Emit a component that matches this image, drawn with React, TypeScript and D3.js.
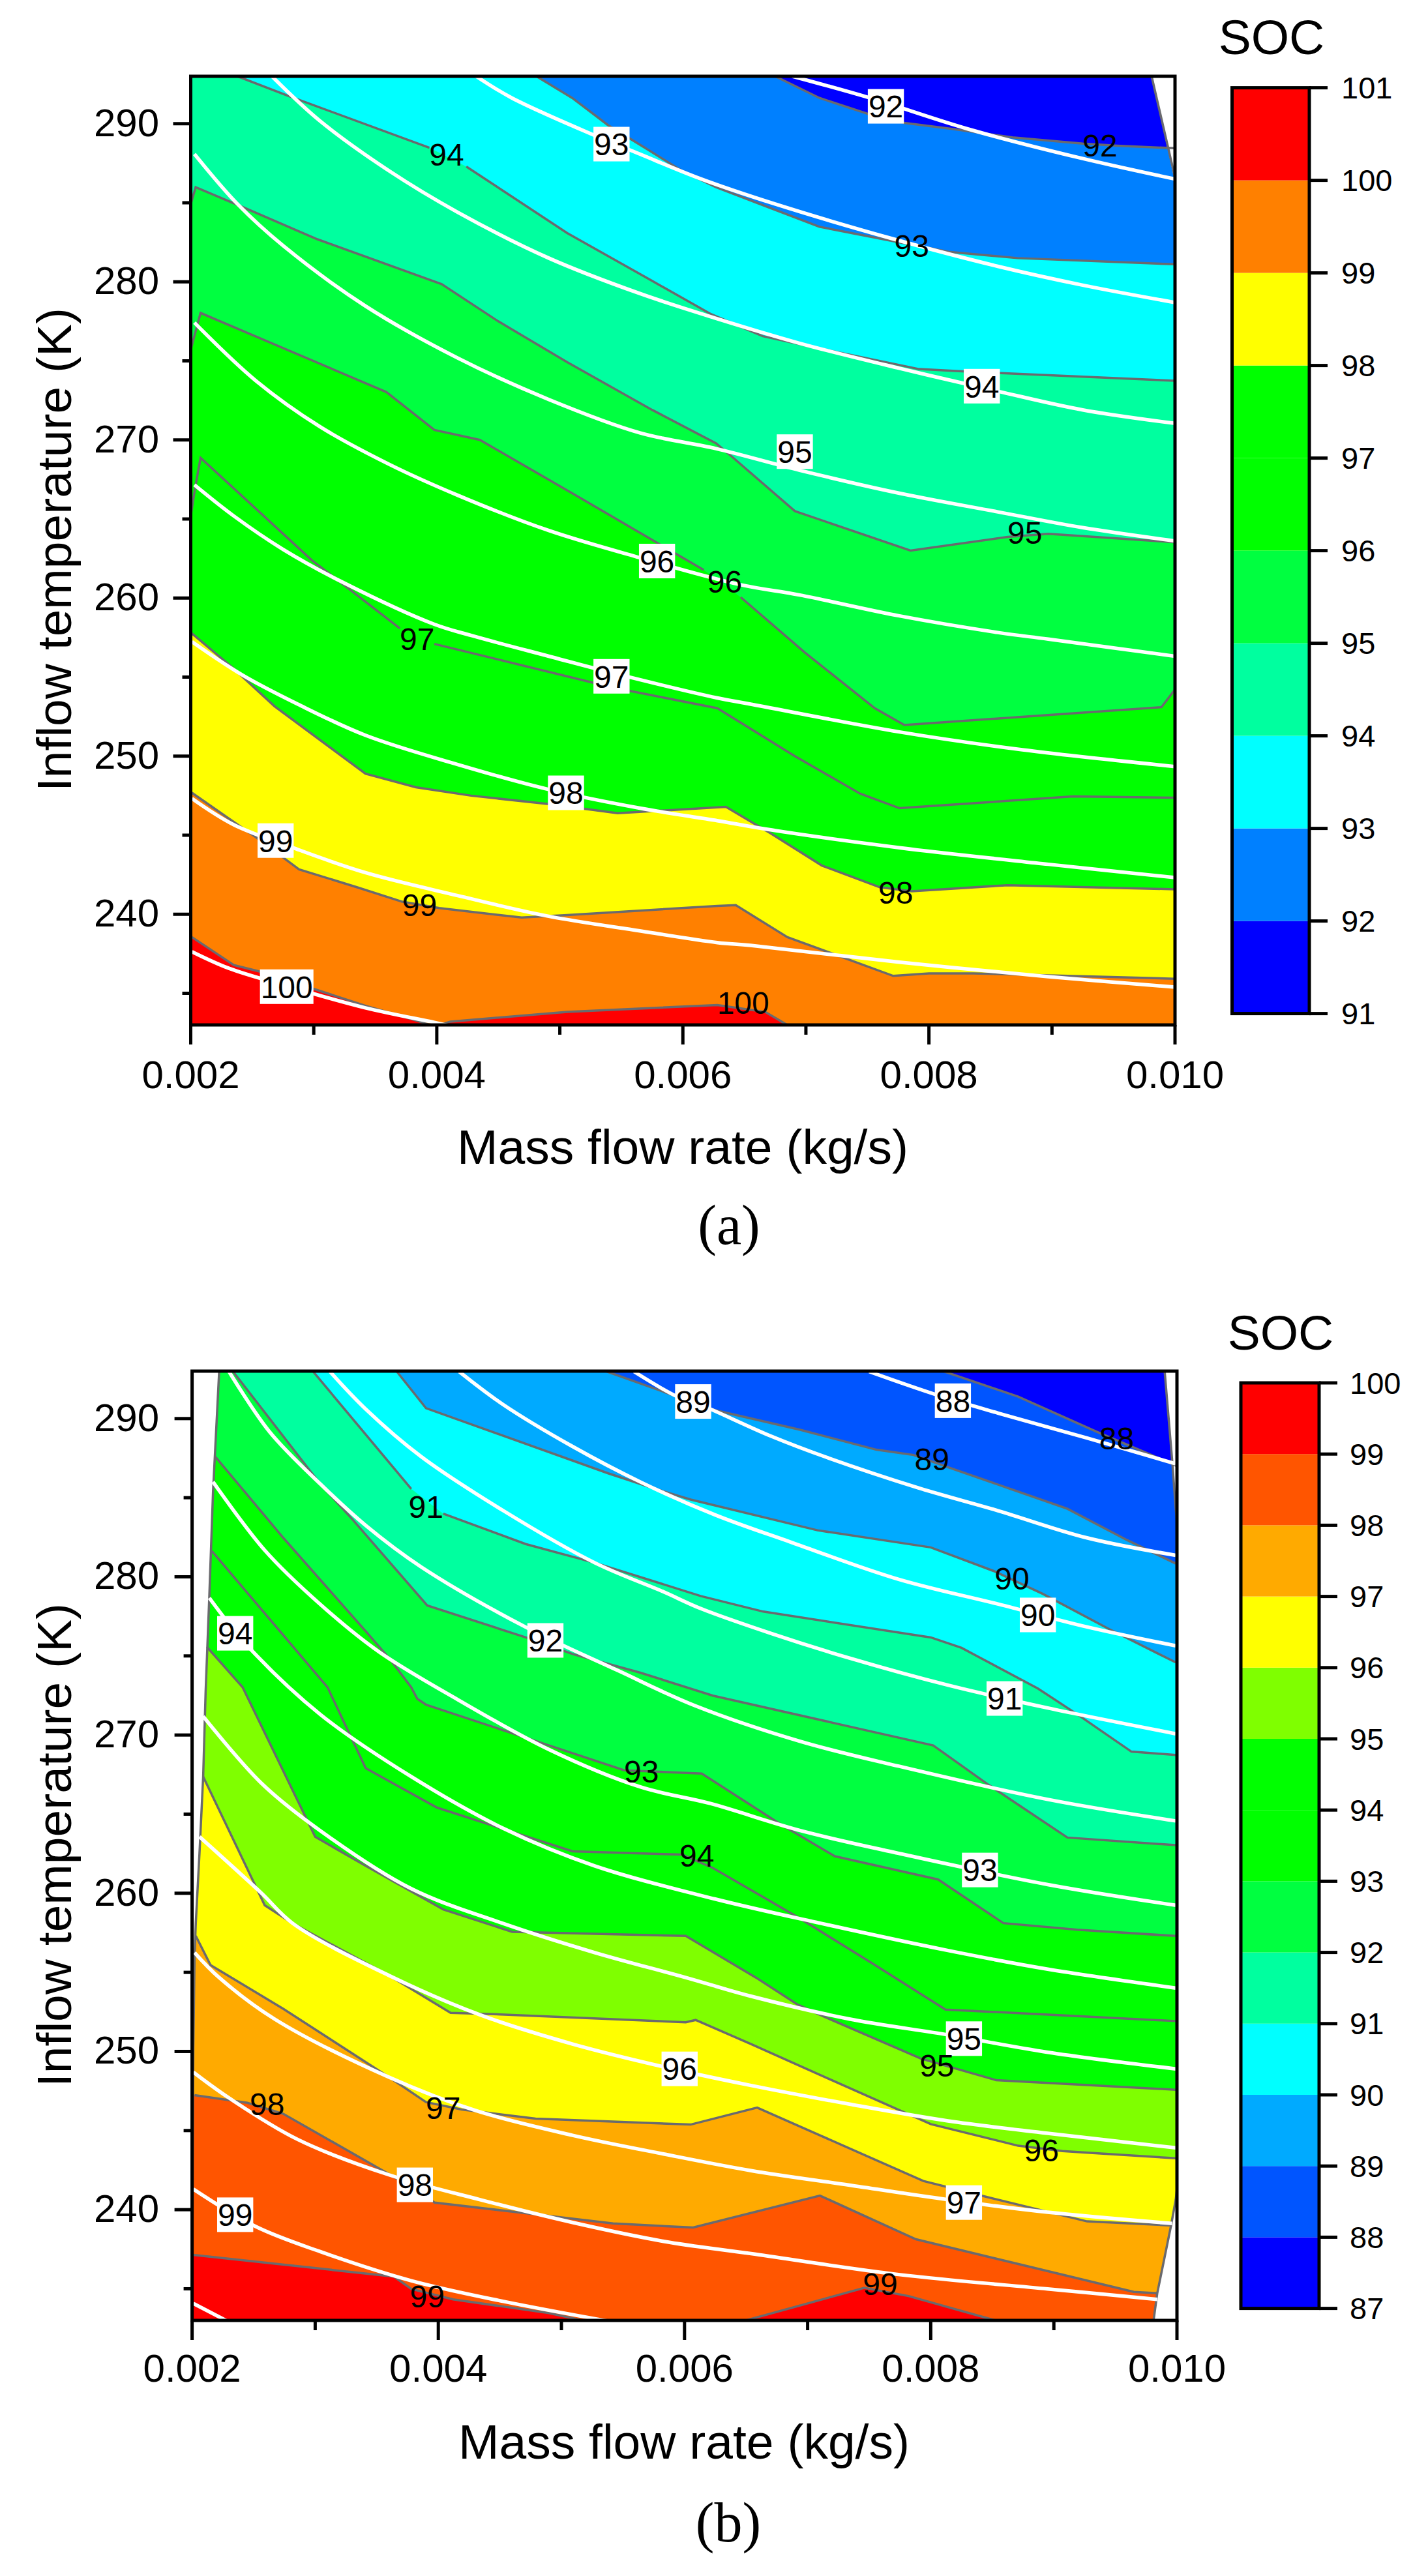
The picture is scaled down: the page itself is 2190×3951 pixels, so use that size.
import React from "react";
import * as d3 from "d3";

type P = [number, number] | null;
type Label = [string, number, number, boolean];

// All points are [mass flow in g/s, inflow temperature in K]. null = gap hidden behind a label.
const flowTicks = [2, 4, 6, 8, 10];
const flowMinor = [3, 5, 7, 9];
const tempTicks = [240, 250, 260, 270, 280, 290];
const tempMinor = [235, 245, 255, 265, 275, 285];

// ---------- Panel (a) ----------
const hullA: P[] = [[2, 233], [2, 293], [9.81, 293], [9.985, 286.8], [10, 286.6], [10, 233]];
const hullEdgeA: P[] = [[9.81, 293], [10, 286.6]];
const levelsA = [91, 92, 93, 94, 95, 96, 97, 98, 99, 100, 101];
const bandColorsA = ["#0000ff", "#0080ff", "#00ffff", "#00ff9f", "#00ff40", "#00ff00", "#00ff00", "#ffff00", "#ff8000", "#ff0000"];

const a92: P[] = [[6.75, 293], [7.11, 291.63], [7.52, 290.58], [7.8, 290.05], [8.2, 289.66], [8.68, 289.13], [9.25, 288.74], [9.53, 288.61], [9.93, 288.47], [10, 288.45]];
const a93: P[] = [[4.81, 293], [5.1, 291.63], [5.39, 289.92], [5.69, 288.48], [5.99, 287.03], [6.27, 285.98], [6.67, 284.79], [7.11, 283.48], [7.72, 282.56], [8.16, 281.9], [8.72, 281.5], [10, 281.11]];
const a94: P[] = [[2.38, 293], [2.79, 291.77], [3.94, 288.48], null, [4.24, 287.29], [5.06, 283.08], [5.75, 280.06], [6.23, 277.95], [6.65, 276.56], [7.07, 275.85], [7.48, 275.19], [7.92, 274.48], [8.32, 274.32], [10, 273.74]];
const a95: P[] = [[2, 284.92], [2.04, 285.98], [2.42, 284.74], [3.03, 282.69], [4.04, 279.85], [4.5, 277.5], [5.06, 274.92], [5.75, 271.9], [6.27, 269.79], [6.39, 269], [6.91, 265.5], [7.85, 263], [8.64, 263.87], [8.97, 264.06], [10, 263.53]];
const a96: P[] = [[2, 275.71], [2.08, 278.03], [3.59, 273.03], [3.98, 270.63], [4.35, 270], [5.1, 266.63], [6.17, 261.77], null, [6.47, 260.05], [6.99, 256.56], [7.56, 253.03], [7.8, 251.97], [9.89, 253.1], [10, 254.21]];
const a97: P[] = [[2, 265.2], [2.04, 267.16], [2.08, 268.87], [2.98, 262.42], [3.35, 260.19], [3.7, 258.08], null, [3.98, 257.1], [5.43, 254.34], [6.28, 253.03], [6.91, 250], [7.44, 247.63], [7.76, 246.71], [9.17, 247.45], [10, 247.37]];
const a98: P[] = [[2.01, 257.76], [2.35, 255.53], [2.68, 253.16], [3.42, 248.89], [3.83, 248.03], [4.28, 247.5], [4.91, 246.97], [5.47, 246.39], [5.88, 246.58], [6.35, 246.79], [6.71, 245.13], [7.13, 243.08], [7.6, 241.71], [7.86, 241.45], [8.64, 241.84], [10, 241.58]];
const a99: P[] = [[2.01, 247.68], [2.31, 246.05], [2.53, 244.87], [2.88, 242.84], [3.35, 241.71], [3.72, 240.79], [4.02, 240.39], [4.69, 239.79], [5.06, 239.95], [6.28, 240.53], [6.43, 240.58], [6.85, 238.55], [7.36, 237.1], [7.71, 236.1], [8, 236.26], [8.36, 236.26], [10, 235.92]];
const a100: P[] = [[2.01, 238.55], [2.35, 236.79], [2.59, 236.32], [3.42, 234.21], [3.83, 233.29], [3.98, 232.9], [4.11, 233.21], [5.06, 233.82], [6.28, 234.26], [6.67, 233.82], [6.87, 232.9]];
const boundariesA: { color: string; line: P[] }[] = [
  { color: bandColorsA[1], line: a92 },
  { color: bandColorsA[2], line: a93 },
  { color: bandColorsA[3], line: a94 },
  { color: bandColorsA[4], line: a95 },
  { color: bandColorsA[5], line: a96 },
  { color: bandColorsA[6], line: a97 },
  { color: bandColorsA[7], line: a98 },
  { color: bandColorsA[8], line: a99 },
  { color: bandColorsA[9], line: a100 },
];

const whiteA92: P[] = [[6.89, 293], [7.52, 291.63], [8.32, 289.66], [9.21, 287.87], [10, 286.5]];
const whiteA93: P[] = [[4.32, 293], [4.61, 291.63], [5.28, 289.27], [5.65, 288.08], [6.15, 286.5], [6.75, 284.92], [7.72, 282.69], [8.56, 280.98], [9.25, 279.79], [10, 278.69]];
const whiteA94: P[] = [[2.66, 293], [3.05, 290.18], [3.61, 287.03], [4.17, 284.4], [4.91, 281.5], [5.65, 279.26], [6.27, 277.69], [6.95, 276.11], [7.76, 274.53], [8.56, 273.08], [9.25, 271.9], [10, 271.05]];
const whiteA95: P[] = [[2.03, 288.08], [2.38, 284.92], [2.75, 282.29], [3.42, 278.47], [4.17, 275.18], [4.91, 272.56], [5.65, 270.45], [6.27, 269.45], [6.95, 268.08], [7.76, 266.63], [8.56, 265.45], [9.25, 264.45], [10, 263.61]];
const whiteA96: P[] = [[2.03, 277.42], [2.53, 273.74], [3.05, 270.84], [3.61, 268.47], [4.17, 266.5], [4.91, 264.27], [5.65, 262.55], [6.47, 260.84], [6.95, 260.19], [7.76, 258.87], [8.56, 257.82], [8.97, 257.4], [10, 256.32]];
const whiteA97: P[] = [[2.03, 267.16], [2.35, 265.19], [2.75, 263.08], [3.24, 260.98], [3.98, 258.34], [4.28, 257.63], [4.91, 256.32], [5.43, 255.26], [6.28, 253.68], [6.55, 253.29], [7.76, 251.53], [8.76, 250.4], [10, 249.34]];
const whiteA98: P[] = [[2.01, 257.24], [2.42, 255.13], [2.87, 253.29], [3.42, 251.32], [4.17, 249.47], [4.91, 247.89], [5.65, 246.71], [6.28, 245.92], [6.67, 245.39], [7.76, 244.21], [8.97, 243.16], [10, 242.32]];
const whiteA99: P[] = [[2.01, 247.32], [2.35, 245.66], [2.83, 244.21], [3.42, 242.63], [4.17, 241.18], [4.91, 239.87], [5.65, 238.95], [6.28, 238.21], [6.55, 238.03], [7.76, 236.97], [8.97, 236.05], [10, 235.39]];
const whiteA100: P[] = [[2.01, 237.63], [2.31, 236.58], [2.75, 235.53], [3.42, 234.08], [3.98, 233.16], [4.13, 232.9]];
const whiteLinesA = [whiteA92, whiteA93, whiteA94, whiteA95, whiteA96, whiteA97, whiteA98, whiteA99, whiteA100];

const labelsA: Label[] = [
  ["92", 7.65, 291.1, true], ["93", 5.42, 288.71, true], ["95", 6.91, 269.26, true], ["94", 8.43, 273.4, true],
  ["96", 5.79, 262.34, true], ["97", 5.42, 255.05, true], ["98", 5.05, 247.68, true], ["99", 2.69, 244.66, true], ["100", 2.78, 235.42, true],
  ["94", 4.08, 288.08, false], ["92", 9.39, 288.66, false], ["93", 7.86, 282.3, false], ["95", 8.78, 264.13, false],
  ["96", 6.34, 261.05, false], ["97", 3.84, 257.42, false], ["99", 3.86, 240.6, false], ["98", 7.73, 241.39, false], ["100", 6.49, 234.42, false],
];

// ---------- Panel (b) ----------
const hullB: P[] = [[2.22, 293], [2.17, 285.35], [2.14, 278.79], [2.11, 272.76], [2.09, 267.37], [2.06, 262.52], [2.03, 258.11], [2.02, 255.98], [2.01, 250.2], [2, 233], [9.81, 233], [9.84, 234.72], [9.95, 238.92], [9.99, 240.63], [10, 241.3], [10, 283.5], [9.99, 284.3], [9.96, 287.45], [9.9, 293]];
const hullEdgeB1: P[] = [[2.22, 293], [2.17, 285.35], [2.14, 278.79], [2.11, 272.76], [2.09, 267.37], [2.06, 262.52], [2.03, 258.11], [2.02, 255.98], [2.01, 250.2], [2, 233]];
const hullEdgeB2: P[] = [[9.9, 293], [9.96, 287.45], [9.99, 284.3], [10, 283.5]];
const hullEdgeB3: P[] = [[10, 241.3], [9.99, 240.63], [9.95, 238.92], [9.84, 234.72], [9.81, 233]];
const levelsB = [87, 88, 89, 90, 91, 92, 93, 94, 95, 96, 97, 98, 99, 100];
const bandColorsB = ["#0000ff", "#0055ff", "#00aaff", "#00ffff", "#00ff9f", "#00ff40", "#00ff00", "#00ff00", "#7fff00", "#ffff00", "#ffaa00", "#ff5500", "#ff0000"];

const b88: P[] = [[8.1, 293], [8.71, 291.39], [9.35, 289.16], [9.96, 287.14], [10, 287]];
const b89: P[] = [[5.36, 293], [5.94, 291.39], [6.21, 290.6], [6.94, 289.29], [7.56, 288.03], [7.86, 287.7], [8.14, 286.93], [9.11, 284.3], [9.59, 282.34], [9.99, 280.84]];
const b90: P[] = [[3.66, 293], [3.9, 290.66], [5.38, 286.54], [5.79, 285.49], [6.05, 284.88], [7.08, 282.94], [8, 281.86], [8.51, 280.37], [8.91, 278.92], [9.45, 276.69], [9.99, 274.59]];
const b91: P[] = [[2.98, 293], [3.78, 285.56], null, [4.04, 283.99], [4.71, 282.07], [5.27, 280.89], [6.13, 278.79], [6.64, 277.8], [8, 276.17], [8.25, 275.51], [8.87, 272.94], [9.19, 271.31], [9.63, 268.95], [9.99, 268.74]];
const b92: P[] = [[2.33, 293], [3.04, 285.88], [3.3, 283.65], [3.91, 278.19], [4.71, 276.17], [5.09, 275.12], [5.64, 273.94], [6.23, 272.49], [8.02, 269.34], [8.47, 266.85], [9.11, 263.52], [9.99, 263.04]];
const b93: P[] = [[2.19, 287.58], [2.74, 282.47], [3.41, 276.56], [3.6, 274.86], [3.78, 273.02], [3.83, 272.28], [3.9, 271.92], [4.9, 269.34], [5.51, 267.77], [6.14, 267.56], [6.78, 264.36], [7.22, 262.34], [8.06, 260.87], [8.59, 258.11], [9.19, 257.69], [9.99, 257.3]];
const b94: P[] = [[2.16, 281.63], [3.1, 273.02], [3.41, 267.9], [3.99, 265.41], [5.09, 262.65], [5.98, 262.44], [6.23, 261.6], [6.9, 258.58], [7.52, 255.59], [8.12, 252.65], [9.99, 251.92]];
const b95: P[] = [[2.12, 275.57], [2.41, 273.02], [3, 263.57], [3.41, 261.73], [4.04, 258.98], [4.6, 257.56], [6.01, 257.3], [6.58, 254.67], [6.92, 252.96], [7.14, 252.18], [7.92, 249.55], [8.53, 248.19], [9.99, 247.58]];
const b96: P[] = [[2.09, 267.37], [2.59, 259.24], [2.82, 258.08], [3.6, 254.8], [4.1, 252.44], [4.45, 252.36], [6.01, 251.84], [6.09, 251.99], [6.54, 250.47], [7.18, 248.24], [8, 245.41], [8.71, 244.04], [9.07, 243.7], [9.99, 243.25]];
const b97: P[] = [[2.03, 257.3], [2.15, 255.46], [2.74, 252.7], [3.6, 248.37], [3.9, 246.8], [4.19, 246.33], [4.79, 245.75], [6.05, 245.38], [6.59, 246.45], [7.1, 244.7], [7.94, 241.81], [8.41, 240.89], [9.27, 239.26], [9.96, 239]];
const b98: P[] = [[2.02, 247.24], [2.45, 246.75], [2.74, 246.06], [3.64, 242.07], [3.97, 240.45], [4.64, 239.84], [5.42, 239.13], [6.07, 238.87], [7.1, 240.89], [7.88, 238.13], [9.65, 234.8], [9.84, 234.72]];
const b99Left: P[] = [[2.01, 237.14], [3.64, 235.77], [3.78, 234.99], [4.12, 234.33], [4.9, 233.46], [5.23, 232.9]];
const b99Right: P[] = [[6.45, 232.9], [7.46, 235.06], [7.82, 234.54], [8.57, 232.9]];
const boundariesB: { color: string; line: P[] }[] = [
  { color: bandColorsB[1], line: b88 },
  { color: bandColorsB[2], line: b89 },
  { color: bandColorsB[3], line: b90 },
  { color: bandColorsB[4], line: b91 },
  { color: bandColorsB[5], line: b92 },
  { color: bandColorsB[6], line: b93 },
  { color: bandColorsB[7], line: b94 },
  { color: bandColorsB[8], line: b95 },
  { color: bandColorsB[9], line: b96 },
  { color: bandColorsB[10], line: b97 },
  { color: bandColorsB[11], line: b98 },
  { color: bandColorsB[12], line: b99Left },
  { color: bandColorsB[12], line: b99Right },
];

const whiteB88: P[] = [[7.5, 292.97], [8.04, 291.52], [8.55, 290.34], [9.27, 288.77], [9.99, 287.14]];
const whiteB89: P[] = [[5.59, 292.97], [5.94, 291.39], [6.13, 290.87], [6.7, 288.9], [7.14, 287.59], [7.9, 285.62], [8.55, 284.17], [9.27, 282.46], [9.99, 281.36]];
const whiteB90: P[] = [[4.17, 292.97], [4.53, 290.87], [5.09, 288.24], [5.64, 286], [6.25, 283.91], [6.86, 282.2], [7.74, 279.84], [8.55, 278.27], [9.27, 276.83], [9.99, 275.64]];
const whiteB91: P[] = [[3.12, 292.97], [3.41, 290.6], [3.86, 287.6], [4.53, 284.17], [5.27, 280.89], [5.83, 279.05], [6.13, 278], [6.7, 276.43], [7.34, 274.86], [8.14, 273.15], [8.95, 271.71], [9.99, 270.08]];
const whiteB92: P[] = [[2.3, 292.97], [2.63, 289.16], [3.04, 285.88], [3.41, 283.25], [3.86, 280.63], [4.71, 276.82], [5.46, 274.07], [6.09, 271.84], [6.94, 269.6], [7.74, 268.03], [8.95, 265.93], [9.99, 264.57]];
const whiteB93: P[] = [[2.17, 286], [2.59, 281.68], [3.04, 278.27], [3.52, 275.25], [4.16, 272.23], [4.9, 269.08], [5.64, 266.72], [6.21, 265.67], [6.94, 263.96], [7.74, 262.52], [8.95, 260.55], [9.99, 259.24]];
const whiteB94: P[] = [[2.14, 278.66], [2.45, 275.64], [3.04, 271.31], [3.78, 267.37], [4.53, 264.09], [5.27, 261.73], [6.25, 259.63], [7.1, 258.11], [8.14, 256.38], [8.95, 255.2], [9.99, 254.01]];
const whiteB95: P[] = [[2.09, 271.18], [2.56, 266.98], [3.04, 263.96], [3.78, 260.29], [4.53, 258.08], [5.27, 256.25], [6.01, 254.67], [6.54, 253.49], [7.34, 252.05], [8.14, 251.05], [8.95, 249.95], [9.99, 248.9]];
const whiteB96: P[] = [[2.06, 263.57], [2.56, 260.03], [2.82, 258.08], [3.6, 254.8], [4.34, 252.31], [5.09, 250.47], [5.83, 249.03], [6.54, 247.85], [7.34, 246.67], [8.14, 245.61], [8.95, 244.83], [9.99, 243.91]];
const whiteB97: P[] = [[2.02, 256.25], [2.22, 254.67], [2.67, 252.05], [3.6, 248.37], [4.3, 246.27], [5.09, 244.7], [5.83, 243.52], [6.54, 242.47], [7.34, 241.55], [8.14, 240.63], [8.95, 239.84], [9.96, 239.13]];
const whiteB98: P[] = [[2.01, 248.69], [2.3, 247.06], [2.86, 244.43], [3.6, 242.2], [4.34, 240.63], [5.09, 239.19], [5.83, 238], [6.54, 237.22], [7.74, 235.9], [8.95, 234.99], [9.84, 234.33]];
const whiteB99: P[] = [[2.01, 241.3], [2.52, 238.92], [3.04, 237.35], [3.78, 235.51], [4.53, 234.2], [5.42, 232.9]];
const whiteB100: P[] = [[2.01, 234.07], [2.3, 232.9]];
const whiteLinesB = [whiteB88, whiteB89, whiteB90, whiteB91, whiteB92, whiteB93, whiteB94, whiteB95, whiteB96, whiteB97, whiteB98, whiteB99, whiteB100];

const labelsB: Label[] = [
  ["89", 6.07, 291.08, true], ["92", 4.87, 275.98, true], ["94", 2.35, 276.43, true], ["88", 8.18, 291.13, true],
  ["90", 8.87, 277.59, true], ["91", 8.6, 272.31, true], ["93", 8.4, 261.47, true], ["96", 5.96, 248.9, true],
  ["98", 3.81, 241.57, true], ["99", 2.35, 239.68, true], ["95", 8.27, 250.81, true], ["97", 8.27, 240.45, true],
  ["91", 3.9, 284.43, false], ["93", 5.65, 267.69, false], ["94", 6.1, 262.39, false], ["89", 8.01, 287.45, false],
  ["90", 8.66, 279.89, false], ["88", 9.51, 288.77, false], ["98", 2.61, 246.69, false], ["97", 4.04, 246.46, false],
  ["99", 3.91, 234.54, false], ["95", 8.05, 249.11, false], ["96", 8.9, 243.78, false], ["99", 7.59, 235.3, false],
];

const SANS = "'Liberation Sans', Arial, sans-serif";
const GRAY = "#6a6a6e";

interface PanelProps {
  id: string;
  caption: string;
  frame: { l: number; r: number; t: number; b: number };
  bar: { l: number; r: number; tickEnd: number; t: number; b: number; labelX: number };
  socX: number; socY: number;
  xTitleX: number; xTitleY: number; yTitleY: number;
  xTickY: number;
  captionX: number; captionY: number;
  hull: P[]; hullEdges: P[][];
  boundaries: { color: string; line: P[] }[];
  whites: P[][];
  labels: Label[];
  levels: number[]; colors: string[];
}

function Panel(p: PanelProps) {
  const { frame: f, bar } = p;
  const x = d3.scaleLinear().domain([2, 10]).range([f.l, f.r]);
  const y = d3.scaleLinear().domain([233, 293]).range([f.b, f.t]);
  const cb = d3.scaleLinear().domain([p.levels[0], p.levels[p.levels.length - 1]]).range([bar.b, bar.t]);
  const gray = d3.line<P>().defined((d) => d !== null).x((d) => x(d![0])).y((d) => y(d![1]));
  const white = d3.line<P>().x((d) => x(d![0])).y((d) => y(d![1])).curve(d3.curveCatmullRom.alpha(0.5));
  const solid = (l: P[]) => l.filter((d) => d !== null) as [number, number][];
  const fillShape = (l: P[]) => {
    const s = solid(l);
    const first = s[0], last = s[s.length - 1];
    const closed: P[] = [...s, [10.3, last[1]], [10.3, 231], [1.7, 231], [1.7, first[1]]];
    return gray(closed)! + "Z";
  };
  const fs = 48;
  return (
    <g>
      <defs>
        <clipPath id={`hull-${p.id}`}><path d={gray(p.hull)! + "Z"} /></clipPath>
        <clipPath id={`plot-${p.id}`}><rect x={f.l} y={f.t} width={f.r - f.l} height={f.b - f.t} /></clipPath>
      </defs>
      <g clipPath={`url(#plot-${p.id})`}>
        <g clipPath={`url(#hull-${p.id})`}>
          <path d={gray(p.hull)! + "Z"} fill={p.colors[0]} />
          {p.boundaries.map((b, i) => <path key={i} d={fillShape(b.line)} fill={b.color} />)}
        </g>
        {p.boundaries.map((b, i) => <path key={i} d={gray(b.line)!} fill="none" stroke={GRAY} strokeWidth={3.5} />)}
        {p.hullEdges.map((e, i) => <path key={i} d={gray(e)!} fill="none" stroke={GRAY} strokeWidth={3.5} />)}
        {p.whites.map((w, i) => <path key={i} d={white(w)!} fill="none" stroke="#fff" strokeWidth={5.5} />)}
      </g>
      {p.labels.map(([t, fx, ty, boxed], i) => {
        const w = t.length * fs * 0.556 + 2;
        return (
          <g key={i}>
            {boxed && <rect x={x(fx) - w / 2} y={y(ty) - 26.5} width={w} height={53} fill="#fff" />}
            <text x={x(fx)} y={y(ty) + fs * 0.36} textAnchor="middle" fontFamily={SANS} fontSize={fs} fill="#000">{t}</text>
          </g>
        );
      })}
      <rect x={f.l} y={f.t} width={f.r - f.l} height={f.b - f.t} fill="none" stroke="#000" strokeWidth={5} />
      {flowTicks.map((v) => (
        <g key={v}>
          <line x1={x(v)} x2={x(v)} y1={f.b} y2={f.b + 30} stroke="#000" strokeWidth={5} />
          <text x={x(v)} y={p.xTickY} textAnchor="middle" fontFamily={SANS} fontSize={60} fill="#000">{(v / 1000).toFixed(3)}</text>
        </g>
      ))}
      {flowMinor.map((v) => <line key={v} x1={x(v)} x2={x(v)} y1={f.b} y2={f.b + 15} stroke="#000" strokeWidth={5} />)}
      {tempTicks.map((v) => (
        <g key={v}>
          <line x1={f.l - 27} x2={f.l} y1={y(v)} y2={y(v)} stroke="#000" strokeWidth={5} />
          <text x={244} y={y(v) + 19} textAnchor="end" fontFamily={SANS} fontSize={60} fill="#000">{v}</text>
        </g>
      ))}
      {tempMinor.map((v) => <line key={v} x1={f.l - 13} x2={f.l} y1={y(v)} y2={y(v)} stroke="#000" strokeWidth={5} />)}
      <text x={p.xTitleX} y={p.xTitleY} textAnchor="middle" fontFamily={SANS} fontSize={75} fill="#000">Mass flow rate (kg/s)</text>
      <text transform={`translate(109,${p.yTitleY}) rotate(-90)`} textAnchor="middle" fontFamily={SANS} fontSize={75} fill="#000">Inflow temperature (K)</text>
      <text x={p.captionX} y={p.captionY} textAnchor="middle" fontFamily="'Liberation Serif', serif" fontSize={86} fill="#000">{p.caption}</text>
      <text x={p.socX} y={p.socY} textAnchor="middle" fontFamily={SANS} fontSize={75} fill="#000">SOC</text>
      {p.colors.map((c, i) => (
        <rect key={i} x={bar.l} width={bar.r - bar.l} y={cb(p.levels[i + 1])} height={cb(p.levels[i]) - cb(p.levels[i + 1])} fill={c} />
      ))}
      <rect x={bar.l} y={bar.t} width={bar.r - bar.l} height={bar.b - bar.t} fill="none" stroke="#000" strokeWidth={5} />
      {p.levels.map((v) => (
        <g key={v}>
          <line x1={bar.r} x2={bar.tickEnd} y1={cb(v)} y2={cb(v)} stroke="#000" strokeWidth={5} />
          <text x={bar.labelX} y={cb(v) + 16.5} fontFamily={SANS} fontSize={47} fill="#000">{v}</text>
        </g>
      ))}
    </g>
  );
}

export default function App() {
  return (
    <svg width={2190} height={3951} viewBox="0 0 2190 3951" style={{ position: "absolute", left: 0, top: 0, display: "block", background: "#fff" }}>
      <Panel
        id="a" caption="(a)"
        frame={{ l: 292.5, r: 1802, t: 117, b: 1572 }}
        bar={{ l: 1889.5, r: 2008, tickEnd: 2036, t: 134.6, b: 1554.6, labelX: 2057 }}
        socX={1950} socY={83}
        xTitleX={1047} xTitleY={1785} yTitleY={843} xTickY={1669}
        captionX={1118} captionY={1908}
        hull={hullA} hullEdges={[hullEdgeA]}
        boundaries={boundariesA} whites={whiteLinesA} labels={labelsA}
        levels={levelsA} colors={bandColorsA}
      />
      <Panel
        id="b" caption="(b)"
        frame={{ l: 294.6, r: 1805, t: 2103, b: 3559 }}
        bar={{ l: 1903, r: 2023, tickEnd: 2051, t: 2121, b: 3540.6, labelX: 2070 }}
        socX={1964} socY={2070}
        xTitleX={1049} xTitleY={3771} yTitleY={2830} xTickY={3653}
        captionX={1117} captionY={3898}
        hull={hullB} hullEdges={[hullEdgeB1, hullEdgeB2, hullEdgeB3]}
        boundaries={boundariesB} whites={whiteLinesB} labels={labelsB}
        levels={levelsB} colors={bandColorsB}
      />
    </svg>
  );
}
